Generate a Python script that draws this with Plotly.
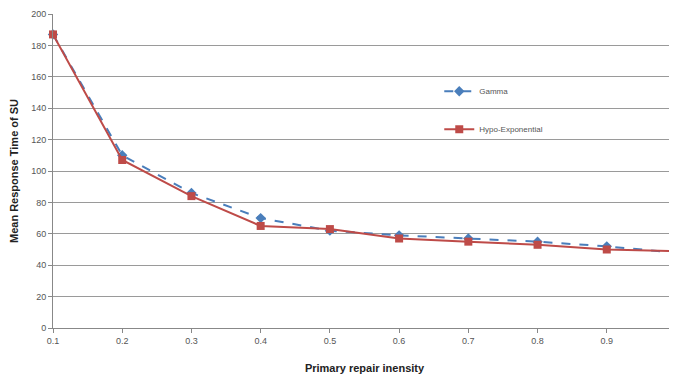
import plotly.graph_objects as go

intensity = [0.1, 0.2, 0.3, 0.4, 0.5, 0.6, 0.7, 0.8, 0.9, 1.0]
gamma = [187, 110, 86, 70, 62, 59, 57, 55, 52, 48]
hypo = [187, 107, 84, 65, 63, 57, 55, 53, 50, 49]
x_ticks = [0.1, 0.2, 0.3, 0.4, 0.5, 0.6, 0.7, 0.8, 0.9, 1.0]
x_tick_labels = ["0.1", "0.2", "0.3", "0.4", "0.5", "0.6", "0.7", "0.8", "0.9", "1"]

fig = go.Figure()
fig.add_trace(go.Scatter(
    x=intensity, y=gamma, name="Gamma", mode="lines+markers",
    line=dict(color="#4a7ebb", width=2, dash="dash"),
    marker=dict(symbol="diamond", size=8, color="#4a7ebb"),
    legendgroup="g1", cliponaxis=False,
))
fig.add_trace(go.Scatter(
    x=intensity, y=hypo, name="Hypo-Exponential", mode="lines+markers",
    line=dict(color="#be4b48", width=2),
    marker=dict(symbol="square", size=8, color="#be4b48"),
    legendgroup="g2", cliponaxis=False,
))

fig.update_layout(
    width=669, height=373,
    margin=dict(l=45, r=1, t=6, b=53, autoexpand=False),
    plot_bgcolor="white", paper_bgcolor="white",
    font=dict(family="Liberation Sans, Arial", size=9, color="#555"),
    legend=dict(x=0.62, y=0.80, xanchor="left", yanchor="top",
                tracegroupgap=19, itemwidth=30, bgcolor="rgba(0,0,0,0)",
                font=dict(size=8, color="#555")),
    xaxis=dict(
        range=[0.1, 1.0], tickvals=x_ticks, ticktext=x_tick_labels,
        showgrid=False, showline=True, linecolor="#888", linewidth=1,
        ticks="outside", ticklen=4, tickcolor="#888", zeroline=False,
        automargin=False, ticklabeloverflow="allow",
        title=dict(text="<b>Primary repair inensity</b>",
                   font=dict(size=11, color="#222"), standoff=19),
    ),
    yaxis=dict(
        range=[0, 200], dtick=20,
        showgrid=True, gridcolor="#9a9a9a", gridwidth=1,
        showline=True, linecolor="#888", linewidth=1,
        ticks="outside", ticklen=4, tickcolor="#888", zeroline=False,
        automargin=False,
        title=dict(text="<b>Mean Response Time of SU</b>",
                   font=dict(size=11, color="#222"), standoff=11),
    ),
)

fig.write_html("out.html")
